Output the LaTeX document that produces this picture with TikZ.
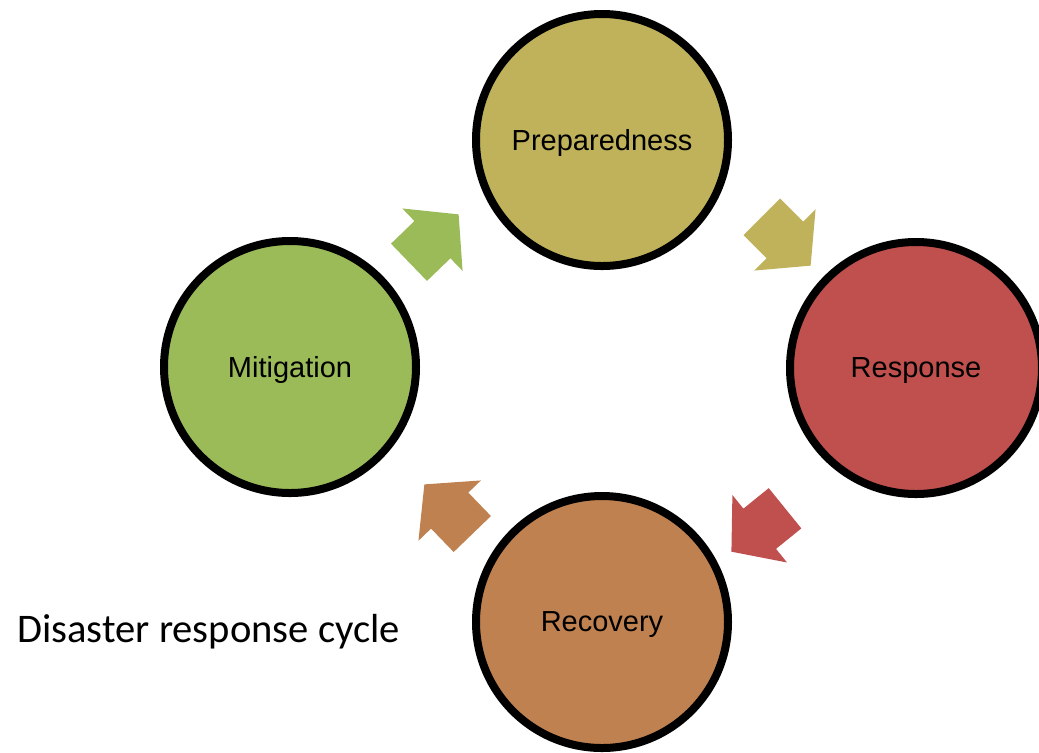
\documentclass[tikz,border=0pt]{standalone}
\usepackage{fontspec}
\setmainfont{Liberation Sans}
\newfontfamily\captionfont{Carlito}
\usetikzlibrary{shapes.arrows}
\definecolor{mitigc}{HTML}{9BBB59}
\definecolor{prepc}{HTML}{BFB25A}
\definecolor{respc}{HTML}{C0504D}
\definecolor{recovc}{HTML}{BF8150}

\begin{document}
\begin{tikzpicture}[
  x=0.5pt, y=-0.5pt,
  phase/.style={draw, circle, line width=4pt, minimum size=126pt, inner sep=0pt,
                font=\fontsize{14.5pt}{17pt}\selectfont, text depth=0pt},
  flow/.style={single arrow, draw=none, inner xsep=0pt, inner ysep=12.75pt,
               minimum height=34.5pt, minimum width=43pt,
               single arrow head extend=8.75pt, single arrow tip angle=100,
               anchor=tip}
]
\useasboundingbox (0,0) rectangle (1039,752);
% the four phases
\node[phase, fill=prepc]  (prep)  at (602,140) {Preparedness};
\node[phase, fill=respc]  (resp)  at (916,368) {Response};
\node[phase, fill=recovc] (recov) at (602,622) {Recovery};
\node[phase, fill=mitigc] (mitig) at (290,367) {Mitigation};
% block arrows between them
\node[flow, fill=mitigc, rotate=44]  (mitprep)  at (459,214) {};
\node[flow, fill=prepc,  rotate=-45] (prepresp) at (811,266) {};
\node[flow, fill=respc,  rotate=219] (resprec)  at (731,552) {};
\node[flow, fill=recovc, rotate=134] (recmit)   at (424,484) {};
\node[anchor=base west, inner sep=0pt, font=\captionfont\fontsize{20.3pt}{24pt}\selectfont]
  (caption) at (17,642) {Disaster response cycle};
\end{tikzpicture}
\end{document}
